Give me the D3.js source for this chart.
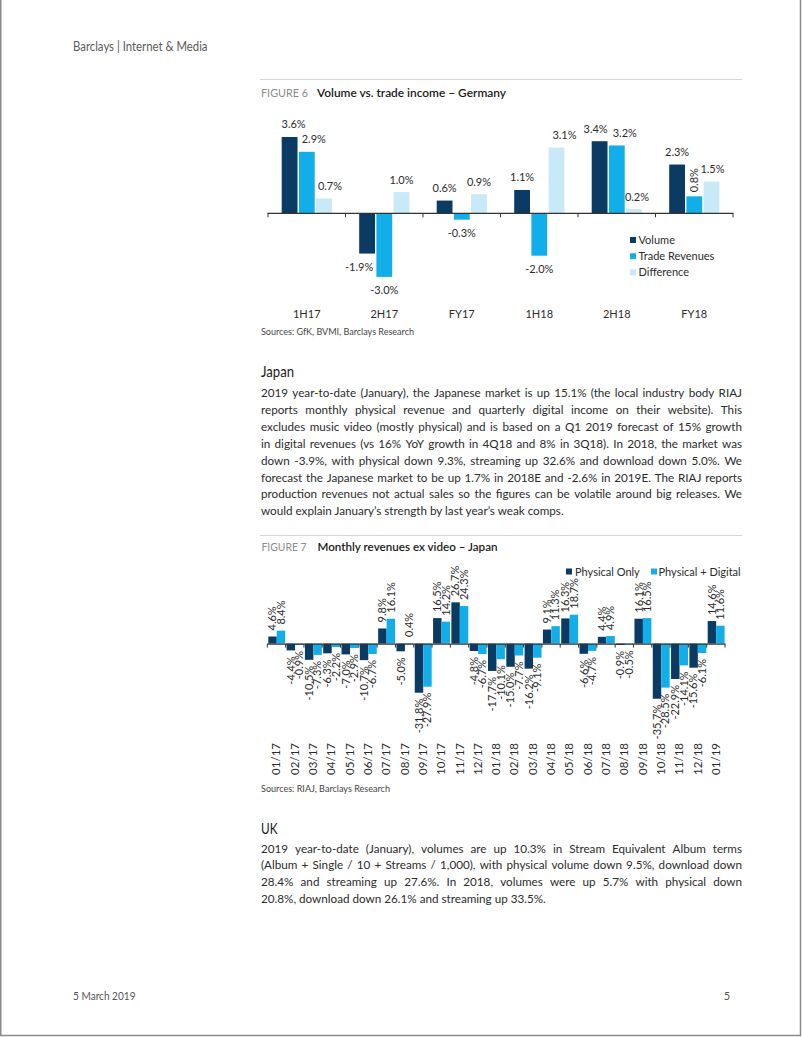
<!DOCTYPE html>
<html><head><meta charset="utf-8">
<script src="https://cdn.jsdelivr.net/npm/d3@7"></script>
<style>
html,body{margin:0;padding:0;background:#fff;}
svg{display:block;font-family:Lato,"Open Sans",sans-serif;}
</style></head>
<body>
<script>
// ---------- DATA ----------
const fig6Categories = ['1H17','2H17','FY17','1H18','2H18','FY18'];
const fig6Series = ['Volume','Trade Revenues','Difference'];
const fig6Volume = [3.6, -1.9, 0.6, 1.1, 3.4, 2.3];
const fig6Trade  = [2.9, -3.0, -0.3, -2.0, 3.2, 0.8];
const fig6Diff   = [0.7, 1.0, 0.9, 3.1, 0.2, 1.5];

const fig7Months = ['01/17','02/17','03/17','04/17','05/17','06/17','07/17','08/17','09/17','10/17','11/17','12/17',
                    '01/18','02/18','03/18','04/18','05/18','06/18','07/18','08/18','09/18','10/18','11/18','12/18','01/19'];
const fig7Series = ['Physical Only','Physical + Digital'];
const fig7Physical = [4.6,-4.4,-10.5,-6.3,-7.0,-10.7,9.8,-5.0,-31.8,16.5,26.7,-4.8,
                      -17.7,-15.0,-16.2,9.1,16.3,-6.6,4.4,-0.9,16.1,-35.7,-22.9,-15.6,14.6];
const fig7PhysDigital = [8.4,-0.9,-7.3,-2.2,-2.9,-6.7,16.1,0.4,-27.9,14.2,24.3,-6.7,
                      -10.1,-7.7,-9.1,11.3,18.7,-4.7,4.9,-0.5,16.5,-28.5,-14.1,-6.1,11.6];

const japanLines = [
 '2019 year-to-date (January), the Japanese market is up 15.1% (the local industry body RIAJ',
 'reports monthly physical revenue and quarterly digital income on their website). This',
 'excludes music video (mostly physical) and is based on a Q1 2019 forecast of 15% growth',
 'in digital revenues (vs 16% YoY growth in 4Q18 and 8% in 3Q18). In 2018, the market was',
 'down -3.9%, with physical down 9.3%, streaming up 32.6% and download down 5.0%. We',
 'forecast the Japanese market to be up 1.7% in 2018E and -2.6% in 2019E.  The RIAJ reports',
 'production revenues not actual sales so the figures can be volatile around big releases.  We',
 'would explain January\u2019s strength by last year\u2019s weak comps.'
];
const ukLines = [
 '2019 year-to-date (January), volumes are up 10.3% in Stream Equivalent Album terms',
 '(Album + Single / 10 + Streams / 1,000), with physical volume down 9.5%, download down',
 '28.4% and streaming up 27.6%.  In 2018, volumes were up 5.7% with physical down',
 '20.8%, download down 26.1% and streaming up 33.5%.'
];

// ---------- STYLE ----------
const NAVY = '#0b3a62', CYAN = '#12aeea', LIGHT = '#c7e9f8';
const TXT = '#2b2b2b';

const svg = d3.select('body').append('svg').attr('width', 802).attr('height', 1037);

// page border
svg.append('path').attr('d','M0.75,0 V1035.5 H800.5 V0').attr('fill','none').attr('stroke','#8a8a8a').attr('stroke-width',1.5);

function measure(str, size, weight) {
  const t = svg.append('text').style('font-size', size + 'px').style('font-weight', weight || 400).text(str);
  const w = t.node().getComputedTextLength(); t.remove(); return w;
}
function label(x, y, str, size, fill, weight, target, anchor) {
  const t = svg.append('text').attr('x', x).attr('y', y).style('font-size', size + 'px')
    .style('font-weight', weight || 400).attr('fill', fill).attr('text-anchor', anchor || 'start').text(str);
  if (target) {
    const w = t.node().getComputedTextLength();
    if (Math.abs(w - target) > 0.5) t.attr('textLength', target).attr('lengthAdjust', 'spacingAndGlyphs');
  }
  return t;
}

// header / footer
label(73, 50.5, 'Barclays | Internet & Media', 12.5, '#5a5a5a', 400, 134.5);
label(73, 999.5, '5 March 2019', 11, '#555', 400, 62.5);
label(727, 999.5, '5', 11, '#555', 400, null, 'middle');

// ---------- body paragraphs ----------
const bodySize = 12 * 303 / measure(japanLines[japanLines.length - 1], 12);
function paragraph(lines, x, y0, lh, width) {
  lines.forEach((ln, i) => {
    const t = svg.append('text').attr('y', y0 + i * lh).style('font-size', bodySize + 'px').attr('fill', TXT);
    if (i === lines.length - 1) { t.attr('x', x).text(ln); return; }
    const words = ln.split(/ +/);
    const ws = words.map(w => measure(w, bodySize));
    const gap = (width - d3.sum(ws)) / (words.length - 1);
    let cx = x;
    words.forEach((w, j) => {
      t.append('tspan').attr('x', cx).text(j < words.length - 1 ? w + ' ' : w);
      cx += ws[j] + gap;
    });
  });
}
label(261, 377, 'Japan', 15, '#1a1a1a', 400, 33);
paragraph(japanLines, 261, 397, 16.9, 481);
label(261, 833.5, 'UK', 15, '#1a1a1a', 400, 16.5);
paragraph(ukLines, 261, 852.5, 16.9, 481);

// ---------- FIGURE 6 ----------
svg.append('line').attr('x1', 260).attr('x2', 742).attr('y1', 79.5).attr('y2', 79.5).attr('stroke', '#d4d4d4');
label(261, 96.5, 'FIGURE 6', 11, '#8c8c8c', 400, 47);
label(317, 96.5, 'Volume vs. trade income \u2013 Germany', 11.5, '#1a1a1a', 600, 189);

const x6 = d3.scaleBand().domain(fig6Categories).range([268, 733]);
const x6s = d3.scaleBand().domain(fig6Series).range([13.7, 63.9]).paddingInner(0.08);
const y6 = d3.scaleLinear().domain([-4, 4]).range([213.3 + 84.8, 213.3 - 84.8]);
const col6 = d3.scaleOrdinal().domain(fig6Series).range([NAVY, CYAN, LIGHT]);
const fig6Data = [];
fig6Categories.forEach((c, i) => {
  [fig6Volume, fig6Trade, fig6Diff].forEach((arr, s) => fig6Data.push({cat: c, ser: fig6Series[s], si: s, ci: i, v: arr[i]}));
});
const g6 = svg.append('g');
g6.selectAll('rect').data(fig6Data).join('rect')
  .attr('x', d => x6(d.cat) + x6s(d.ser)).attr('width', x6s.bandwidth())
  .attr('y', d => Math.min(y6(d.v), y6(0))).attr('height', d => Math.abs(y6(d.v) - y6(0)))
  .attr('fill', d => col6(d.ser));
// axis
g6.append('line').attr('x1', 267.5).attr('x2', 733.5).attr('y1', y6(0)).attr('y2', y6(0)).attr('stroke', '#333').attr('stroke-width', 1.2);
d3.range(fig6Categories.length + 1).forEach(i => {
  const xx = 268 + i * x6.step();
  g6.append('line').attr('x1', xx).attr('x2', xx).attr('y1', y6(0)).attr('y2', y6(0) + 4).attr('stroke', '#333');
});
g6.selectAll('.cl').data(fig6Categories).join('text').attr('class', 'cl')
  .attr('x', d => x6(d) + x6.bandwidth() / 2).attr('y', 317.5).attr('text-anchor', 'middle')
  .style('font-size', '11px').attr('fill', TXT).text(d => d);
// value labels (small nudges mimic original placement)
const nudge6 = [[4, -8, 0, 0, -4, 0], [7, 0, 0, 0, 8, 0], [6, 0, 0, 8, 3, 1]];
fig6Data.forEach(d => {
  const cx = x6(d.cat) + x6s(d.ser) + x6s.bandwidth() / 2;
  const str = d.v.toFixed(1) + '%';
  if (d.ser === 'Trade Revenues' && d.cat === 'FY18') {
    g6.append('text').attr('transform', `translate(${cx},${y6(d.v) - 4}) rotate(-90)`).attr('dy', '0.35em')
      .style('font-size', '11px').attr('fill', TXT).text(str);
    return;
  }
  const yy = d.v >= 0 ? y6(d.v) - 8.5 : y6(d.v) + 17.5;
  g6.append('text').attr('x', cx + nudge6[d.si][d.ci]).attr('y', yy).attr('text-anchor', 'middle')
    .style('font-size', '11px').attr('fill', TXT).text(str);
});
// legend
fig6Series.forEach((s, i) => {
  const ly = 240 + i * 16.2;
  g6.append('rect').attr('x', 630).attr('y', ly - 3).attr('width', 6).attr('height', 6).attr('fill', col6(s));
  g6.append('text').attr('x', 638.5).attr('y', ly + 4).style('font-size', '11px').attr('fill', TXT).text(s);
});
label(261, 335, 'Sources:  GfK, BVMI, Barclays Research', 9.5, '#444', 400, 153);

// ---------- FIGURE 7 ----------
svg.append('line').attr('x1', 260).attr('x2', 742).attr('y1', 535.5).attr('y2', 535.5).attr('stroke', '#d4d4d4');
label(261.5, 551, 'FIGURE 7', 11, '#8c8c8c', 400, 45);
label(317.5, 551, 'Monthly revenues ex video \u2013 Japan', 11.5, '#1a1a1a', 600, 180);

const x7 = d3.scaleBand().domain(fig7Months).range([267.3, 725]);
const x7s = d3.scaleBand().domain(fig7Series).range([1, x7.bandwidth() - 0.4]);
const y7 = d3.scaleLinear().domain([-40, 30]).range([643.6 + 40 * 1.545, 643.6 - 30 * 1.545]);
const col7 = d3.scaleOrdinal().domain(fig7Series).range([NAVY, CYAN]);
const fig7Data = [];
fig7Months.forEach((m, i) => {
  [fig7Physical, fig7PhysDigital].forEach((arr, s) => fig7Data.push({m, ser: fig7Series[s], v: arr[i]}));
});
const g7 = svg.append('g');
g7.selectAll('rect').data(fig7Data).join('rect')
  .attr('x', d => x7(d.m) + x7s(d.ser)).attr('width', x7s.bandwidth())
  .attr('y', d => Math.min(y7(d.v), y7(0))).attr('height', d => Math.abs(y7(d.v) - y7(0)))
  .attr('fill', d => col7(d.ser));
g7.append('line').attr('x1', 267).attr('x2', 725.5).attr('y1', y7(0) + 0.5).attr('y2', y7(0) + 0.5).attr('stroke', '#333').attr('stroke-width', 1.2);
d3.range(fig7Months.length + 1).forEach(i => {
  const xx = 267.3 + i * x7.step();
  g7.append('line').attr('x1', xx).attr('x2', xx).attr('y1', y7(0) + 0.5).attr('y2', y7(0) + 4).attr('stroke', '#333');
});
fig7Data.forEach(d => {
  const cx = x7(d.m) + x7s(d.ser) + x7s.bandwidth() / 2;
  const yy = d.v >= 0 ? y7(d.v) - 6 : y7(d.v) + 6;
  g7.append('text').attr('transform', `translate(${cx},${yy}) rotate(-90)`).attr('dy', '0.35em')
    .attr('text-anchor', d.v >= 0 ? 'start' : 'end').style('font-size', '11px').attr('fill', TXT)
    .text(d.v.toFixed(1) + '%');
});
g7.selectAll('.ml').data(fig7Months).join('text').attr('class', 'ml')
  .attr('transform', d => `translate(${x7(d) + x7.bandwidth() / 2},743) rotate(-90)`).attr('dy', '0.35em')
  .attr('text-anchor', 'end').style('font-size', '11.5px').attr('fill', TXT).text(d => d);
// legend
[[566, 575, 'Physical Only'], [651, 658.5, 'Physical + Digital']].forEach(([mx, tx, s]) => {
  g7.append('rect').attr('x', mx).attr('y', 568.5).attr('width', 6).attr('height', 6).attr('fill', col7(s));
  g7.append('text').attr('x', tx).attr('y', 575.5).style('font-size', '11px').attr('fill', TXT).text(s);
});
label(261, 791.5, 'Sources:  RIAJ, Barclays Research', 9.5, '#444', 400, 129);
</script>
</body></html>
